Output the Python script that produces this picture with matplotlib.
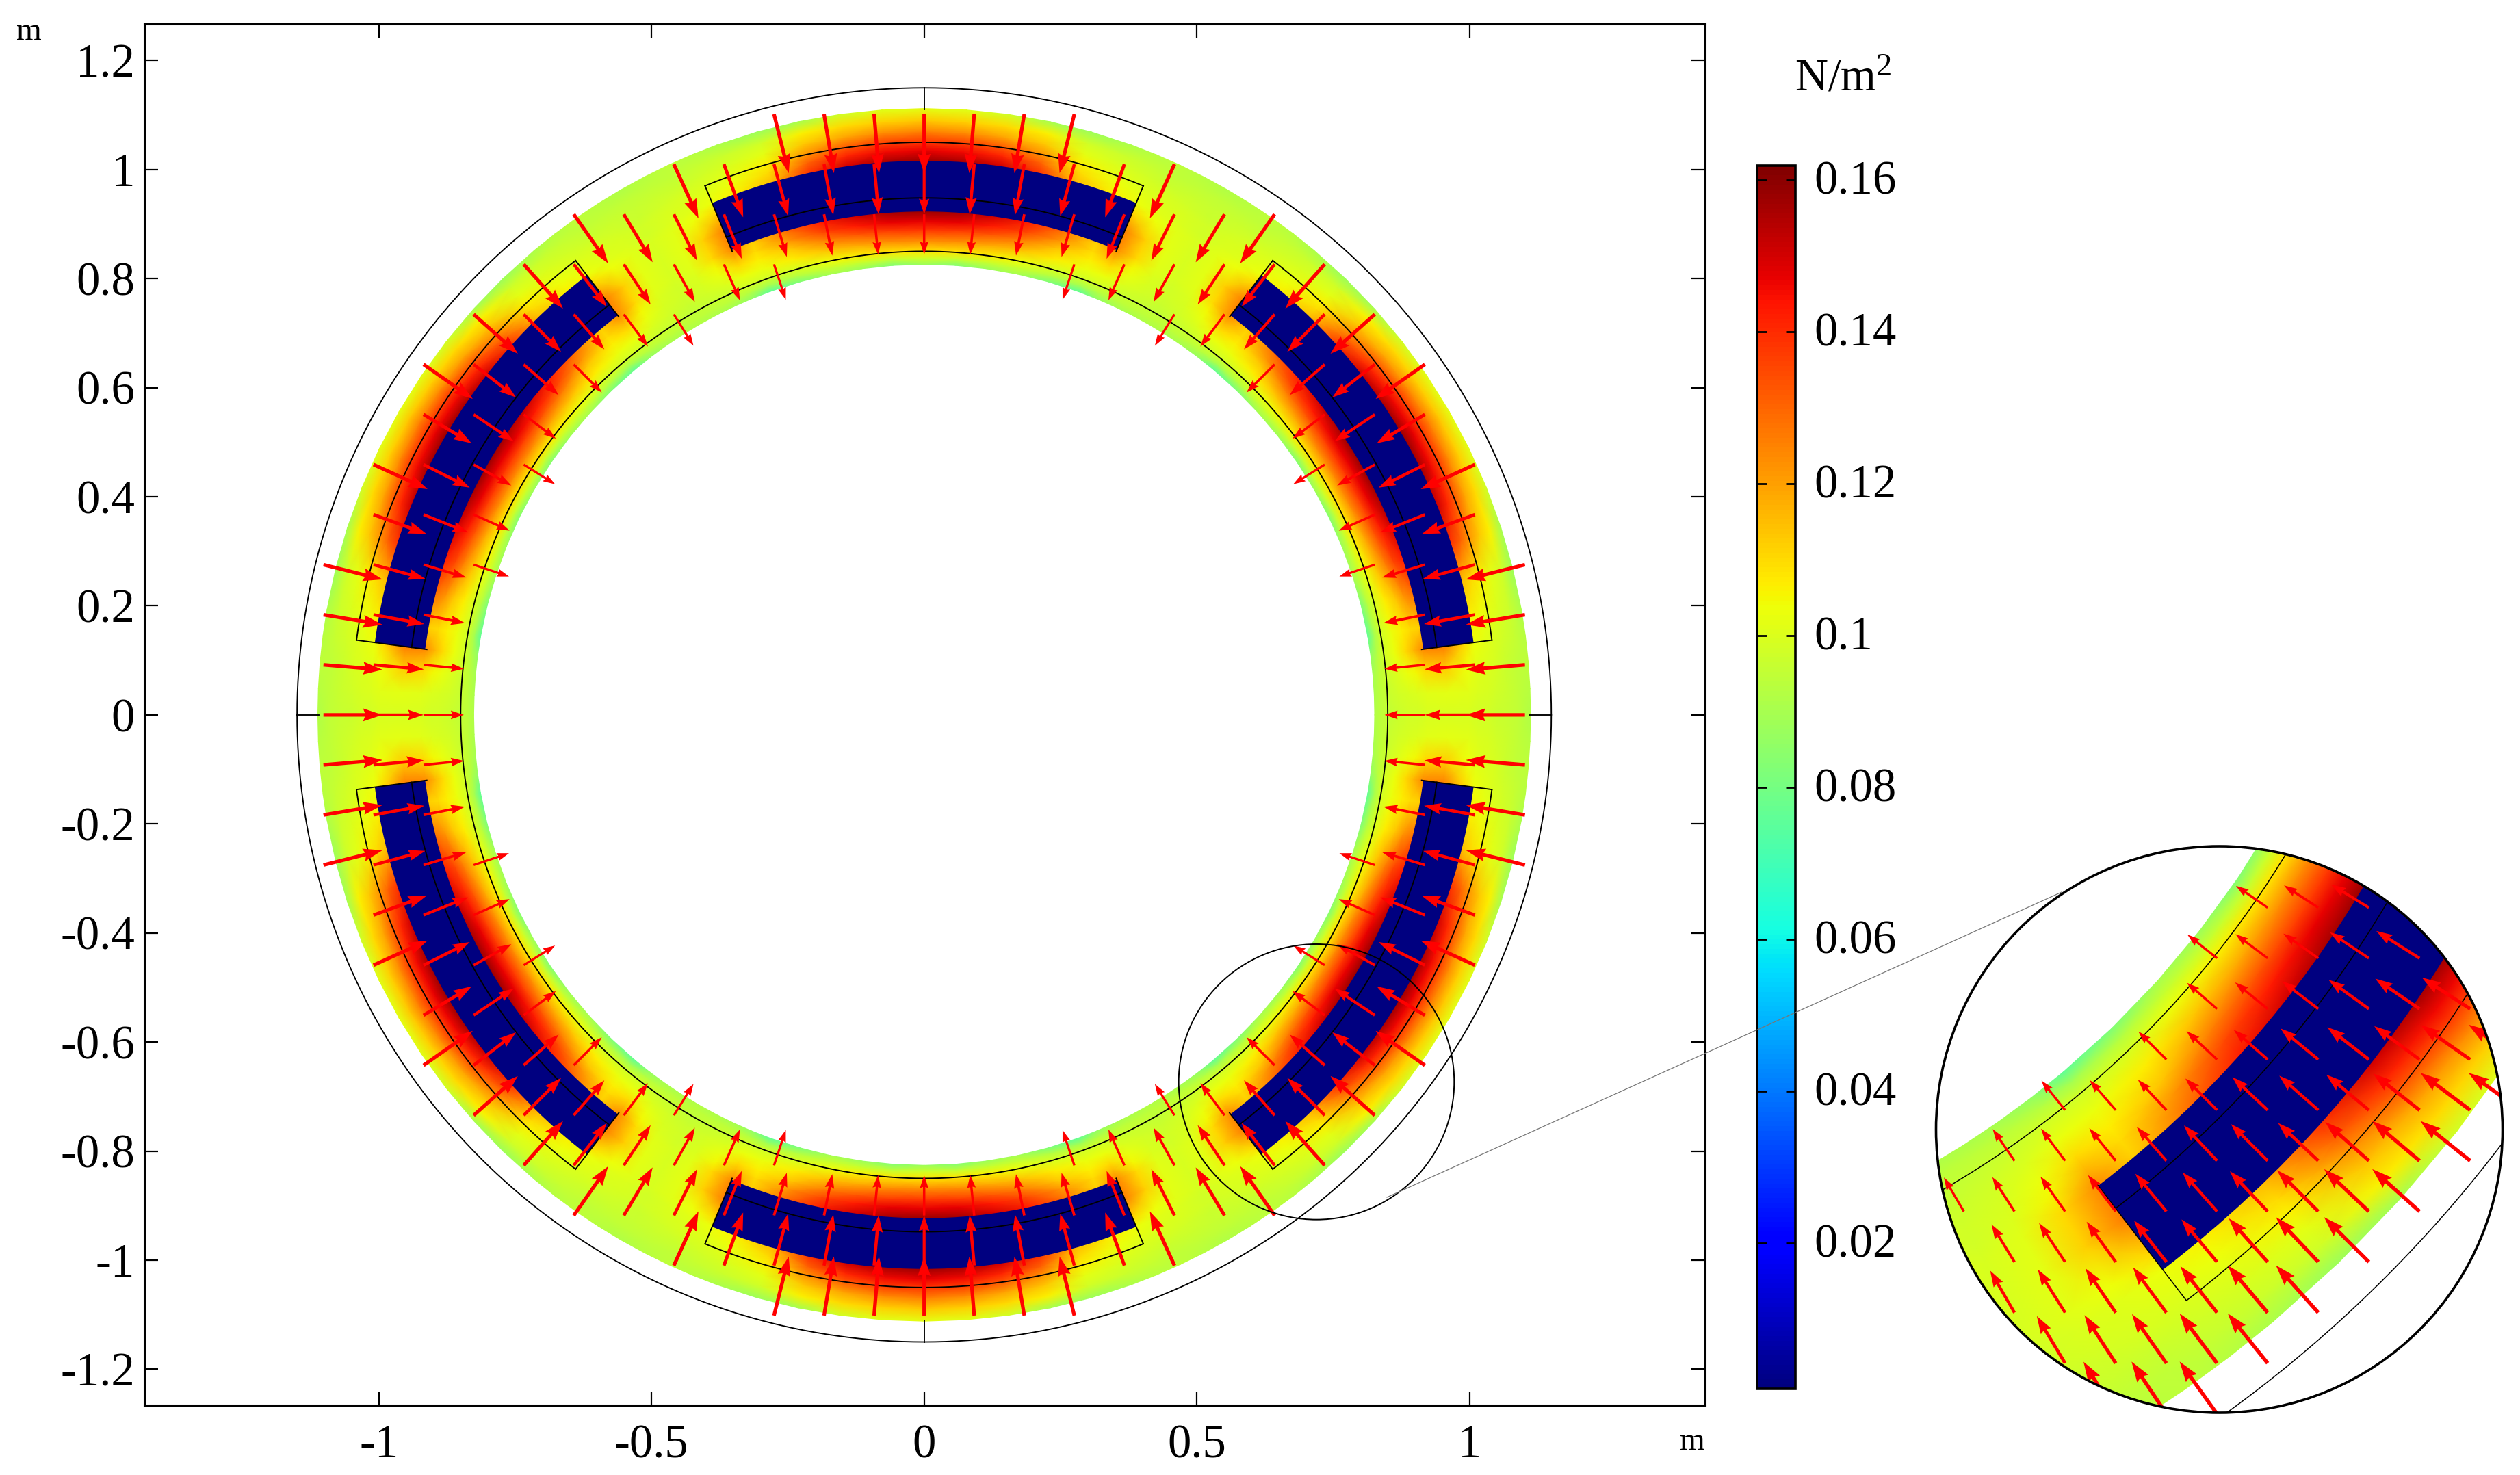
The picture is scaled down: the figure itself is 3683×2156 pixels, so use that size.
import numpy as np
import matplotlib
matplotlib.use("Agg")
import matplotlib.pyplot as plt
from matplotlib.patches import Circle, Wedge
from matplotlib.lines import Line2D
from matplotlib.cm import ScalarMappable
from matplotlib.colors import Normalize
from matplotlib.transforms import ScaledTranslation

plt.rcParams['font.family'] = ['Liberation Serif', 'DejaVu Serif']
plt.rcParams['mathtext.default'] = 'regular'
plt.rcParams['axes.unicode_minus'] = False

# ---------- data ----------
xtick_vals = [-1, -0.5, 0, 0.5, 1]
xtick_text = ['-1', '-0.5', '0', '0.5', '1']
ytick_vals = [-1.2, -1, -0.8, -0.6, -0.4, -0.2, 0, 0.2, 0.4, 0.6, 0.8, 1, 1.2]
ytick_text = ['-1.2', '-1', '-0.8', '-0.6', '-0.4', '-0.2', '0', '0.2', '0.4', '0.6', '0.8', '1', '1.2']
cbar_vals = [0.02, 0.04, 0.06, 0.08, 0.1, 0.12, 0.14, 0.16]
cbar_text = ['0.02', '0.04', '0.06', '0.08', '0.1', '0.12', '0.14', '0.16']
vmin, vmax = 0.0008, 0.1619

coil_centres = [90, 30, -30, -90, -150, 150]
coil_half_angle = 22.5

# angle away from the coil centre, deg
field_phi = [0, 4, 8, 12, 16, 20, 22.5, 25, 27.5, 30]
field_r = [0.826, 0.838, 0.85, 0.87, 0.89, 0.905, 0.923, 0.96, 1.0, 1.016, 1.035, 1.05, 1.07, 1.09, 1.112]
field = [
    [.088, .083, .088, .090, .082, .076, .086, .090, .091, .092],
    [.098, .096, .097, .097, .093, .090, .093, .094, .094, .094],
    [.108, .108, .106, .104, .099, .098, .098, .097, .096, .095],
    [.124, .123, .119, .114, .107, .103, .103, .100, .098, .097],
    [.138, .137, .133, .126, .114, .107, .110, .103, .099, .098],
    [.147, .147, .143, .135, .122, .110, .116, .105, .100, .098],
    [.158, .156, .150, .142, .128, .112, .124, .110, .101, .099],
    [.158, .156, .150, .142, .128, .112, .126, .112, .102, .099],
    [.158, .156, .150, .142, .128, .112, .110, .104, .101, .099],
    [.158, .156, .150, .138, .115, .106, .104, .101, .100, .098],
    [.147, .146, .141, .130, .110, .104, .102, .100, .099, .098],
    [.138, .137, .132, .122, .106, .102, .100, .099, .098, .097],
    [.125, .123, .119, .113, .102, .099, .098, .097, .097, .096],
    [.113, .112, .110, .106, .098, .097, .096, .095, .095, .095],
    [.102, .101, .098, .090, .088, .091, .093, .094, .093, .092],
]

# arrow length against radius, m
arrow_r = [0.85, 0.92, 1.00, 1.10, 1.15]
arrow_len = [0.066, 0.074, 0.090, 0.108, 0.113]

marker_centre = (0.7193, -0.673)
marker_radius = 0.2526
inset_centre = (0.668, -0.683)
inset_radius = 0.2484

# ---------- layout ----------
W, H = 3683, 2156
fig = plt.figure(figsize=(W / 100, H / 100), dpi=100, facecolor='white')
def rect(l, t, r, b):
    return [l / W, 1 - b / H, (r - l) / W, (b - t) / H]

ax = fig.add_axes(rect(211, 35, 2492, 2054))
ax.set_xlim(-1.430, 1.432)
ax.set_ylim(-1.266, 1.267)
FS = 49.5
ax.set_xticks(xtick_vals, xtick_text, fontsize=FS)
ax.set_yticks(ytick_vals, ytick_text, fontsize=FS)
ax.tick_params(axis='both', direction='in', length=14.5, width=1.6, top=True, right=True)
ax.tick_params(axis='x', pad=20)
ax.tick_params(axis='y', pad=10)
for s in ax.spines.values():
    s.set_linewidth(2.2)

cmap = plt.get_cmap('jet')
norm = Normalize(vmin, vmax)

def draw_model(a, grid, len_factor, lw, px_per_m):
    arts = []
    F = np.array(field)
    R = np.array(field_r)
    phi = np.array(field_phi, float)
    for c in coil_centres:
        th = np.concatenate([-phi[::-1], phi[1:]]) + c
        vals = np.hstack([F[:, ::-1], F[:, 1:]])
        T, RR = np.meshgrid(np.radians(th), R)
        arts.append(a.pcolormesh(RR * np.cos(T), RR * np.sin(T), vals, cmap=cmap, norm=norm,
                                 shading='gouraud', zorder=1, rasterized=True))
        arts.append(a.add_patch(Wedge((0, 0), 1.016, c - coil_half_angle, c + coil_half_angle,
                                      width=0.093, facecolor=cmap(0.0), edgecolor='none', zorder=2)))
        t = np.radians(np.linspace(c - coil_half_angle, c + coil_half_angle, 80))
        arts += a.plot(1.05 * np.cos(t), 1.05 * np.sin(t), color='k', lw=lw, zorder=3)
        arts += a.plot(0.948 * np.cos(t), 0.948 * np.sin(t), color='k', lw=lw, zorder=3)
        for e in (c - coil_half_angle, c + coil_half_angle):
            er = np.radians(e)
            arts += a.plot([0.92 * np.cos(er), 1.05 * np.cos(er)], [0.92 * np.sin(er), 1.05 * np.sin(er)],
                           color='k', lw=lw, zorder=3)
    t = np.linspace(0, 2 * np.pi, 721)
    for r0 in (0.85, 1.15):
        arts += a.plot(r0 * np.cos(t), r0 * np.sin(t), color='k', lw=lw, zorder=3)
    for ang in (0, 90, 180, 270):
        ar = np.radians(ang)
        arts += a.plot([1.11 * np.cos(ar), 1.15 * np.cos(ar)], [1.11 * np.sin(ar), 1.15 * np.sin(ar)],
                       color='k', lw=lw, zorder=3)
    # arrows: heads and shafts grow with arrow length
    n = int(1.2 / grid) + 1
    gx, gy = np.meshgrid(np.arange(-n, n + 1) * grid, np.arange(-n, n + 1) * grid)
    rr = np.hypot(gx, gy)
    m = (rr > 0.85) & (rr < 1.15)
    gx, gy, rr = gx[m], gy[m], rr[m]
    L = np.interp(rr, arrow_r, arrow_len) * len_factor
    edges = np.array([0.85, 0.89, 0.93, 0.97, 1.01, 1.05, 1.09, 1.16])
    for lo, hi in zip(edges[:-1], edges[1:]):
        s = (rr >= lo) & (rr < hi)
        if not s.any():
            continue
        w = L[s].mean() * px_per_m * 0.06
        arts.append(a.quiver(gx[s], gy[s], -gx[s] / rr[s] * L[s], -gy[s] / rr[s] * L[s],
                             angles='xy', scale_units='xy', scale=1, units='dots', width=w,
                             headwidth=3.6, headlength=5.4, headaxislength=4.9,
                             color='#ff0000', zorder=4))
    return arts

draw_model(ax, 0.0918, 1.0, 1.35, 797)
ax.add_patch(Circle(marker_centre, marker_radius, fill=False, edgecolor='k', lw=1.4, zorder=5))

# axis-unit labels
fig.text(42 / W, 1 - 47 / H, 'm', fontsize=34, ha='center', va='center')
fig.text(2473 / W, 1 - 2108 / H, 'm', fontsize=34, ha='center', va='center')

# colour bar
cax = fig.add_axes(rect(2568, 242, 2624, 2030))
cb = fig.colorbar(ScalarMappable(norm=norm, cmap=cmap), cax=cax, ticks=cbar_vals)
cb.set_ticklabels(cbar_text, fontsize=FS)
cax.tick_params(axis='y', direction='in', length=10, width=2.0, left=True, right=True, pad=20)
cb.outline.set_linewidth(2.6)
shift = ScaledTranslation(0, 4 / 100, fig.dpi_scale_trans)
for lab in cax.get_yticklabels():
    lab.set_transform(lab.get_transform() + shift)
fig.text(2694 / W, 1 - 132 / H, 'N/m$^{2}$', fontsize=48, ha='center', va='baseline')

# connector
fig.add_artist(Line2D([2027 / W, 3013 / W], [1 - 1750 / H, 1 - 1304 / H], color='#777777', lw=0.9, zorder=10))

# magnified view
cx_px, cy_px, r_px = 3243.5, 1651, 414
iax = fig.add_axes(rect(cx_px - r_px, cy_px - r_px, cx_px + r_px, cy_px + r_px), zorder=20)
iax.set_xlim(inset_centre[0] - inset_radius, inset_centre[0] + inset_radius)
iax.set_ylim(inset_centre[1] - inset_radius, inset_centre[1] + inset_radius)
iax.axis('off')
clip = Circle(inset_centre, inset_radius, transform=iax.transData)
for art in draw_model(iax, 0.0444, 0.5, 1.1, 1667):
    art.set_clip_path(clip)
iax.add_patch(Circle(inset_centre, inset_radius, fill=False, edgecolor='k', lw=2.6, zorder=6, clip_on=False))

fig.savefig('out.png', dpi=100)
